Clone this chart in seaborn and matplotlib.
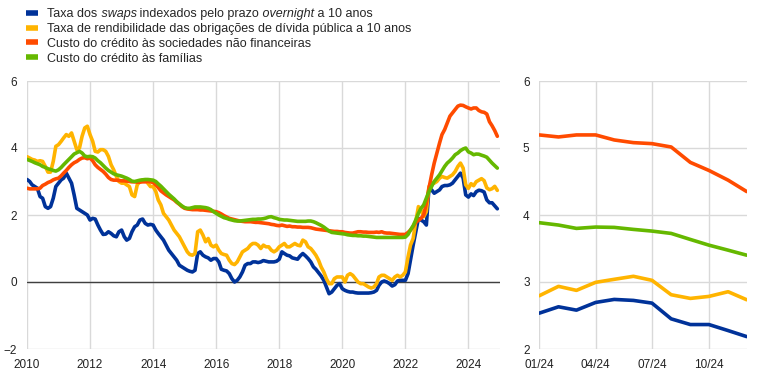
import numpy as np
import pandas as pd
import matplotlib
matplotlib.use("Agg")
import matplotlib.pyplot as plt
import matplotlib.dates as mdates
from matplotlib.lines import Line2D
from matplotlib.text import Annotation
import seaborn as sns

# monthly series, Jan 2010 - Dec 2023 (left panel), Jan-Dec 2024 (both panels)
ois_10y = [3.06, 3.0, 2.9, 2.85, 2.8, 2.55, 2.5, 2.25, 2.2, 2.25, 2.5, 2.85,
           2.95, 3.05, 3.1, 3.25, 3.1, 2.95, 2.6, 2.2, 2.15, 2.1, 2.05, 2.0,
           1.85, 1.9, 1.88, 1.7, 1.55, 1.42, 1.43, 1.5, 1.45, 1.38, 1.35, 1.5,
           1.55, 1.35, 1.25, 1.3, 1.5, 1.65, 1.7, 1.85, 1.88, 1.75, 1.7, 1.72,
           1.7, 1.55, 1.45, 1.35, 1.25, 1.1, 0.95, 0.85, 0.75, 0.65, 0.5, 0.45,
           0.4, 0.35, 0.32, 0.3, 0.35, 0.85, 0.9, 0.8, 0.75, 0.72, 0.65, 0.7,
           0.7, 0.6, 0.38, 0.35, 0.33, 0.25, 0.1, 0.0, 0.05, 0.15, 0.3, 0.5,
           0.55, 0.55, 0.6, 0.6, 0.58, 0.6, 0.64, 0.62, 0.6, 0.6, 0.6, 0.62,
           0.68, 0.9, 0.85, 0.8, 0.78, 0.72, 0.7, 0.68, 0.78, 0.85, 0.78, 0.7,
           0.6, 0.45, 0.38, 0.28, 0.18, 0.05, -0.15, -0.35, -0.3, -0.2, -0.1, -0.05,
           -0.2, -0.25, -0.28, -0.3, -0.3, -0.32, -0.33, -0.33, -0.33, -0.33, -0.33, -0.32,
           -0.3, -0.25, -0.1, 0.0, 0.03, 0.0, -0.05, -0.12, -0.08, 0.03, 0.05, 0.05,
           0.05, 0.25, 0.65, 1.1, 1.5, 1.9, 1.85, 1.8, 1.7, 2.8, 2.75, 2.65,
           2.7, 2.75, 2.85, 2.88, 2.88, 2.9, 2.95, 3.05, 3.15, 3.25, 3.1, 2.6]
gov_10y = [3.74, 3.7, 3.66, 3.64, 3.6, 3.62, 3.6, 3.45, 3.28, 3.28, 3.6, 4.05,
           4.1, 4.2, 4.3, 4.4, 4.35, 4.45, 4.2, 3.95, 4.0, 4.35, 4.6, 4.65,
           4.4, 4.2, 3.9, 3.88, 3.95, 3.95, 3.9, 3.75, 3.5, 3.35, 3.15, 3.0,
           2.95, 2.95, 2.9, 2.85, 2.6, 2.55, 2.9, 3.0, 3.05, 3.05, 2.95, 2.85,
           2.85, 2.7, 2.45, 2.3, 2.05, 1.95, 1.85, 1.7, 1.55, 1.45, 1.35, 1.2,
           1.05, 0.9, 0.82, 0.8, 0.85, 1.5, 1.55, 1.4, 1.2, 1.3, 1.1, 1.05,
           1.1, 0.95, 0.85, 0.82, 0.8, 0.65, 0.55, 0.52, 0.6, 0.75, 0.9, 0.95,
           1.0, 1.1, 1.15, 1.15, 1.1, 1.0, 1.1, 1.05, 1.05, 0.95, 0.9, 0.95,
           1.05, 1.1, 1.15, 1.05, 1.05, 1.1, 1.15, 1.1, 1.08, 1.25, 1.2, 1.05,
           1.0, 0.9, 0.8, 0.65, 0.45, 0.3, 0.1, -0.05, -0.05, 0.1, 0.15, 0.15,
           0.15, 0.0, 0.2, 0.25, 0.2, 0.1, 0.0, -0.05, -0.05, -0.1, -0.15, -0.18,
           -0.15, -0.05, 0.15, 0.2, 0.2, 0.15, 0.1, 0.05, 0.15, 0.2, 0.15, 0.2,
           0.3, 0.75, 1.1, 1.3, 1.8, 2.25, 2.15, 1.95, 2.1, 2.85, 2.95, 2.95,
           3.0, 3.1, 3.15, 3.12, 3.1, 3.15, 3.2, 3.3, 3.45, 3.55, 3.4, 2.9]
nfc_cost = [2.8, 2.78, 2.78, 2.78, 2.78, 2.8, 2.88, 2.92, 2.97, 3.0, 3.05, 3.08,
            3.1, 3.17, 3.25, 3.33, 3.42, 3.5, 3.56, 3.6, 3.66, 3.7, 3.71, 3.68,
            3.7, 3.62, 3.5, 3.42, 3.36, 3.3, 3.22, 3.12, 3.06, 3.04, 3.04, 3.03,
            3.02, 3.02, 3.01, 3.0, 2.99, 2.99, 2.98, 2.98, 2.99, 2.99, 3.0, 2.99,
            2.97, 2.9, 2.82, 2.72, 2.66, 2.6, 2.55, 2.5, 2.45, 2.38, 2.32, 2.25,
            2.2, 2.18, 2.17, 2.16, 2.16, 2.16, 2.15, 2.15, 2.14, 2.13, 2.12, 2.11,
            2.1, 2.07, 2.03, 1.98, 1.94, 1.9, 1.88, 1.86, 1.84, 1.82, 1.81, 1.8,
            1.8, 1.8, 1.79, 1.78, 1.78, 1.77, 1.76, 1.75, 1.74, 1.72, 1.71, 1.69,
            1.68, 1.7, 1.68, 1.66, 1.67, 1.65, 1.65, 1.64, 1.64, 1.63, 1.63, 1.63,
            1.62, 1.6, 1.58, 1.57, 1.56, 1.55, 1.54, 1.53, 1.52, 1.51, 1.51, 1.5,
            1.5, 1.48, 1.47, 1.46, 1.46, 1.48, 1.5, 1.5, 1.49, 1.49, 1.48, 1.48,
            1.48, 1.49, 1.48, 1.5, 1.47, 1.46, 1.46, 1.45, 1.44, 1.43, 1.42, 1.42,
            1.42, 1.48, 1.55, 1.66, 1.78, 1.84, 1.9, 2.0, 2.36, 2.8, 3.2, 3.55,
            3.85, 4.15, 4.4, 4.55, 4.75, 4.95, 5.05, 5.15, 5.25, 5.28, 5.27, 5.23]
hh_cost = [3.66, 3.63, 3.6, 3.56, 3.53, 3.5, 3.45, 3.42, 3.38, 3.36, 3.33, 3.31,
           3.35, 3.42, 3.5, 3.58, 3.66, 3.74, 3.82, 3.86, 3.9, 3.85, 3.76, 3.74,
           3.75, 3.74, 3.7, 3.62, 3.56, 3.48, 3.4, 3.33, 3.28, 3.23, 3.2, 3.18,
           3.16, 3.13, 3.1, 3.06, 3.01, 3.0, 3.02, 3.04, 3.05, 3.06, 3.06, 3.05,
           3.04, 3.0, 2.93, 2.86, 2.78, 2.7, 2.62, 2.55, 2.48, 2.4, 2.33, 2.27,
           2.22, 2.2, 2.2, 2.22, 2.24, 2.24, 2.24, 2.23, 2.22, 2.2, 2.16, 2.1,
           2.05, 2.0, 1.96, 1.92, 1.9, 1.87, 1.85, 1.83, 1.82, 1.82, 1.83, 1.84,
           1.85, 1.86, 1.87, 1.87, 1.88, 1.88, 1.89, 1.91, 1.94, 1.95, 1.92, 1.9,
           1.87, 1.86, 1.85, 1.85, 1.84, 1.83, 1.82, 1.81, 1.81, 1.81, 1.81, 1.82,
           1.82, 1.8, 1.77, 1.73, 1.69, 1.64, 1.58, 1.52, 1.48, 1.47, 1.46, 1.45,
           1.44, 1.43, 1.41, 1.4, 1.39, 1.39, 1.38, 1.38, 1.37, 1.37, 1.36, 1.35,
           1.34, 1.33, 1.33, 1.33, 1.33, 1.33, 1.33, 1.33, 1.33, 1.33, 1.33, 1.33,
           1.34, 1.42, 1.55, 1.68, 1.85, 2.05, 2.2, 2.3, 2.5, 2.7, 2.85, 3.0,
           3.1, 3.2, 3.32, 3.45, 3.55, 3.62, 3.7, 3.8, 3.85, 3.92, 3.97, 4.0]

ois_2024 = [2.535, 2.63, 2.58, 2.695, 2.74, 2.725, 2.685, 2.45, 2.365, 2.365, 2.275, 2.185]
gov_2024 = [2.795, 2.935, 2.875, 2.995, 3.04, 3.085, 3.025, 2.81, 2.755, 2.785, 2.855, 2.735]
nfc_2024 = [5.195, 5.165, 5.195, 5.195, 5.12, 5.08, 5.065, 5.015, 4.785, 4.665, 4.52, 4.35]
hh_2024 = [3.885, 3.85, 3.80, 3.82, 3.815, 3.785, 3.76, 3.725, 3.635, 3.55, 3.475, 3.40]

series_names = ["ois", "gov", "nfc", "hh"]
# first legend entry has italic words, written piece by piece
label_ois = [("Taxa dos", "normal"), (" swaps", "italic"),
             (" indexados pelo prazo", "normal"), (" overnight", "italic"),
             (" a 10 anos", "normal")]
labels = [label_ois[0][0],
          "Taxa de rendibilidade das obrigações de dívida pública a 10 anos",
          "Custo do crédito às sociedades não financeiras",
          "Custo do crédito às famílias"]
colors = ["#003299", "#FFB400", "#FF4B00", "#65B800"]

sns.set_theme(style="white")
plt.rcParams["font.family"] = ["Liberation Sans", "DejaVu Sans"]

dates_all = pd.date_range("2010-01-01", "2024-12-01", freq="MS")
dates_24 = pd.date_range("2024-01-01", "2024-12-01", freq="MS")

long_all = pd.DataFrame({
    "date": np.tile(dates_all, 4),
    "value": np.concatenate([ois_10y + ois_2024, gov_10y + gov_2024,
                             nfc_cost + nfc_2024, hh_cost + hh_2024]),
    "series": np.repeat(series_names, len(dates_all)),
})
long_24 = pd.DataFrame({
    "date": np.tile(dates_24, 4),
    "value": np.concatenate([ois_2024, gov_2024, nfc_2024, hh_2024]),
    "series": np.repeat(series_names, len(dates_24)),
})
pal = dict(zip(series_names, colors))

fig = plt.figure(figsize=(7.68, 3.74), dpi=100)
ax1 = fig.add_axes([27 / 768, 25 / 374, 473 / 768, 268 / 374])
ax2 = fig.add_axes([539.3 / 768, 25 / 374, 207.4 / 768, 268 / 374])

for ax, d in [(ax1, long_all), (ax2, long_24)]:
    sns.lineplot(data=d, x="date", y="value", hue="series", hue_order=series_names,
                 palette=pal, lw=2.6, legend=False, ax=ax, zorder=3)
    ax.grid(True, color="#d9d9d9", lw=1)
    for s in ax.spines.values():
        s.set_visible(False)
    ax.set_xlabel("")
    ax.set_ylabel("")
    ax.tick_params(length=0, labelsize=8.5, labelcolor="#222222", pad=7)

ax1.set_ylim(-2, 6)
ax1.set_yticks([-2, 0, 2, 4, 6])
ax1.set_xlim(pd.Timestamp("2010-01-01"), pd.Timestamp("2025-01-01"))
ax1.xaxis.set_major_locator(mdates.YearLocator(2))
ax1.xaxis.set_major_formatter(mdates.DateFormatter("%Y"))
ax1.axhline(0, color="#404040", lw=1, zorder=2)

ax2.set_ylim(2, 6)
ax2.set_yticks([2, 3, 4, 5, 6])
ax2.set_xlim(pd.Timestamp("2024-01-01"), pd.Timestamp("2024-12-01"))
ax2.xaxis.set_major_locator(mdates.MonthLocator(bymonth=[1, 4, 7, 10]))
ax2.xaxis.set_major_formatter(mdates.DateFormatter("%m/%y"))

handles = [Line2D([], [], color=c, lw=4, solid_capstyle="butt") for c in colors]
leg = fig.legend(handles, labels, loc="upper left", bbox_to_anchor=(26 / 768, 1 - 8 / 374),
                 frameon=False, fontsize=9, handlelength=0.95, handletextpad=0.75,
                 labelspacing=0.23, borderpad=0, borderaxespad=0)
leg.set_zorder(5)

# rest of the first label, chained after the legend text (drawn after the legend)
prev = leg.get_texts()[0]
for piece, style in label_ois[1:]:
    ann = Annotation(piece, xy=(1, 0), xycoords=prev, ha="left", va="bottom",
                     fontsize=9, fontstyle=style, color=prev.get_color(),
                     annotation_clip=False)
    ann.set_zorder(6)
    fig.add_artist(ann)
    prev = ann

fig.savefig("out.png", dpi=100)
